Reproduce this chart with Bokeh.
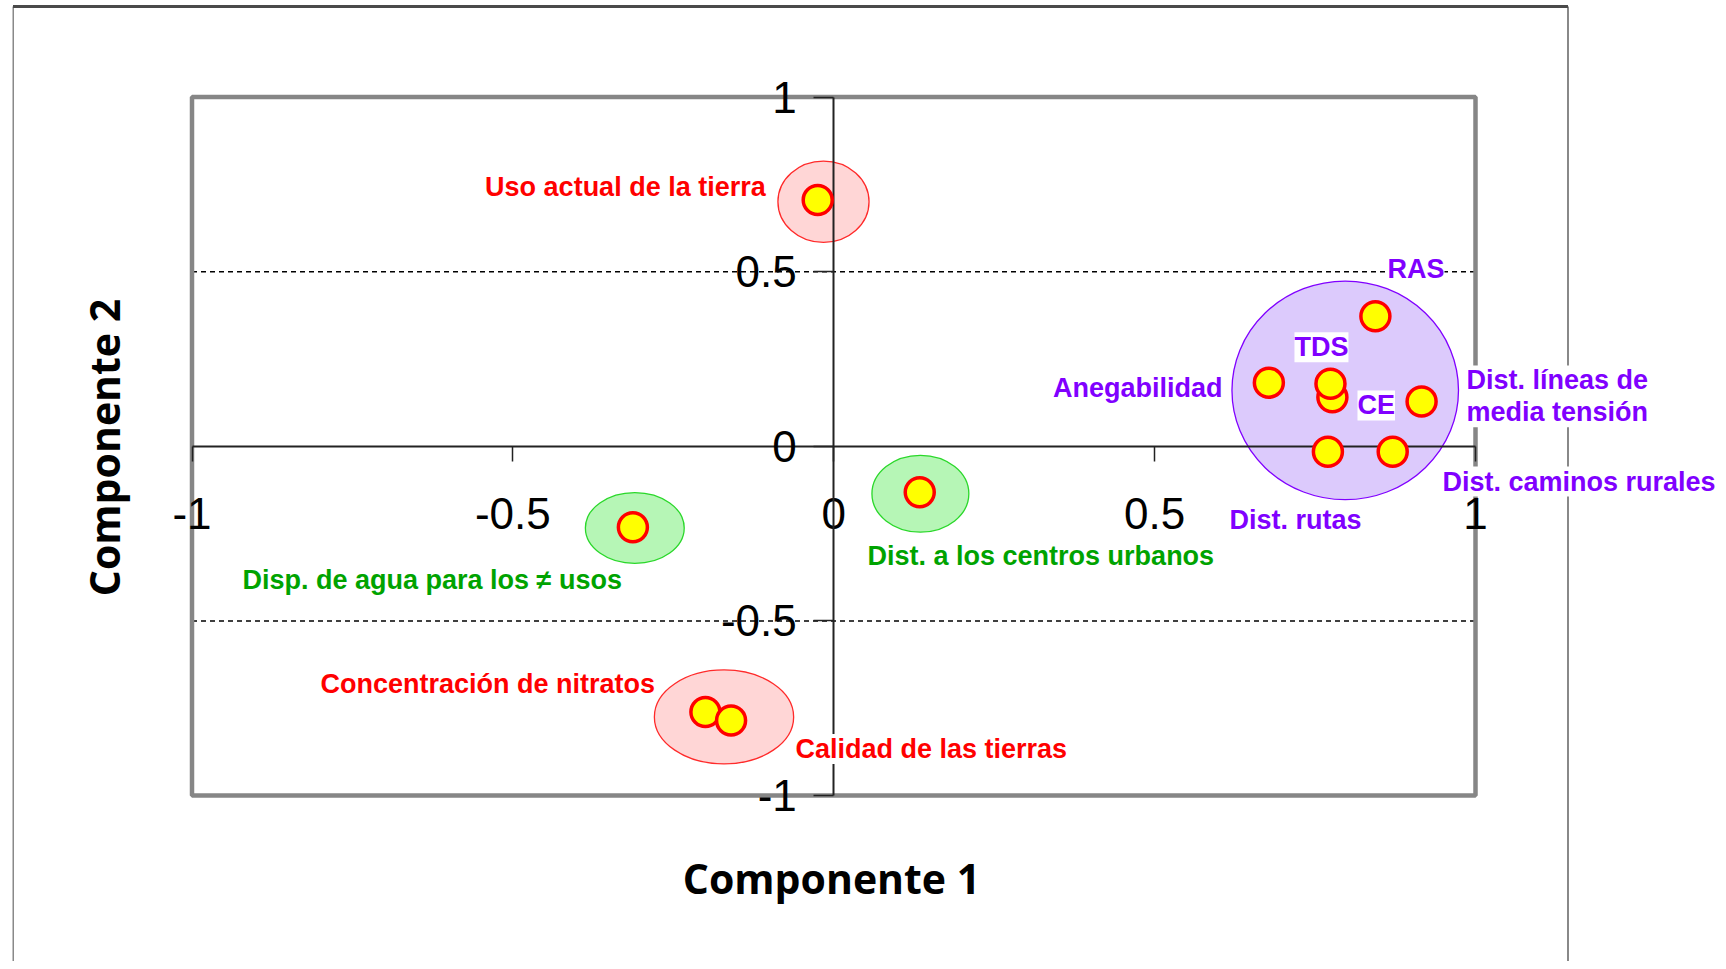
import math
from bokeh.plotting import figure
from bokeh.models import ColumnDataSource, LinearAxis, FixedTicker, Range1d
from bokeh.core.properties import value
from bokeh.embed import file_html
from bokeh.resources import INLINE

# ---------------- data ----------------
variables = [
    "Uso actual de la tierra", "Disp. de agua para los \u2260 usos", "Dist. a los centros urbanos",
    "Concentraci\u00f3n de nitratos", "Calidad de las tierras", "RAS", "Anegabilidad", "CE", "TDS",
    "Dist. l\u00edneas de media tensi\u00f3n", "Dist. rutas", "Dist. caminos rurales",
]
display_text = [
    "Uso actual de la tierra", "Disp. de agua para los \u2260 usos", "Dist. a los centros urbanos",
    "Concentraci\u00f3n de nitratos", "Calidad de las tierras", "RAS", "Anegabilidad", "CE", "TDS",
    "Dist. l\u00edneas de\nmedia tensi\u00f3n", "Dist. rutas", "Dist. caminos rurales",
]
componente1 = [-0.025, -0.313, 0.134, -0.200, -0.160, 0.844, 0.678, 0.777, 0.774, 0.916, 0.770, 0.871]
componente2 = [0.705, -0.232, -0.132, -0.761, -0.785, 0.372, 0.182, 0.140, 0.179, 0.128, -0.016, -0.016]
grupo = ["rojo", "verde", "verde", "rojo", "rojo",
         "violeta", "violeta", "violeta", "violeta", "violeta", "violeta", "violeta"]

# cluster ellipses (centre, width, height in component units)
cluster_grupo = ["rojo", "verde", "verde", "rojo", "violeta"]
cluster_c1 = [-0.016, -0.310, 0.135, -0.171, 0.797]
cluster_c2 = [0.700, -0.234, -0.136, -0.775, 0.160]
cluster_w = [0.142, 0.154, 0.151, 0.217, 0.353]
cluster_h = [0.233, 0.203, 0.220, 0.269, 0.626]

axis_ticks = [-1, -0.5, 0, 0.5, 1]
tick_labels = ["-1", "-0.5", "0", "0.5", "1"]
ref_lines = [-0.5, 0.5]
axis_bounds = (-1, 1)

# ---------------- layout / style ----------------
W, H = 1724, 961
PAGE = 0
BOX_L, BOX_R, BOX_T, BOX_B = 191.5, 1475.0, 96.5, 795.0   # page px of the [-1,1] box
PXX = (BOX_R - BOX_L) / 2.0
PXY = (BOX_B - BOX_T) / 2.0
X0 = (BOX_R + BOX_L) / 2.0
Y0 = (BOX_B + BOX_T) / 2.0
FRAME_L = 12  # page px


def fx(px):
    return (px - X0) / PXX


def fy(py):
    return (Y0 - py) / PXY


# label offsets in px from the point (dy positive = down) and alignment
label_dx = [-52, -390.4, -52.2, -50.4, 64.4, 12.1, -46.4, 25.1, -9, 44.9, -98.4, 49.8]
label_dy = [-13.5, 53.2, 64.1, -28.5, 28.6, -47.8, 5.3, 8.1, -36.5, -5.25, 67.7, 29.7]
label_align = ["right", "left", "left", "right", "left", "left", "right", "left",
               "center", "left", "left", "left"]

text_col = {"rojo": "#ff0000", "verde": "#00a300", "violeta": "#8000ff"}
fill_col = {"rojo": "#ffd6d6", "verde": "#b6f6b6", "violeta": "#dccafc"}
edge_col = {"rojo": "#ff2a2a", "verde": "#2ad82a", "violeta": "#8000ff"}

p = figure(width=W, height=H, output_backend="svg", toolbar_location=None,
           x_axis_location=None, y_axis_location=None,
           x_range=Range1d(fx(FRAME_L), fx(PAGE + W)),
           y_range=Range1d(fy(PAGE + H), fy(PAGE)),
           min_border_left=FRAME_L - PAGE, min_border_right=0,
           min_border_top=0, min_border_bottom=0)
p.outline_line_color = None
p.background_fill_color = "white"
p.border_fill_color = "white"
p.grid.visible = False

# outer frame (left, top, right)
fl, fr, ft = fx(12.5), fx(1567.5), fy(6)
fb = fy(PAGE + H + 5)
p.segment(x0=[fl, fr], y0=[ft, ft], x1=[fl, fr], y1=[fb, fb],
          line_color="#3a3a3a", line_width=1.2, level="underlay")
p.segment(x0=[fl], y0=[ft], x1=[fr], y1=[ft], line_color="#4a4a4a", line_width=3, level="underlay")

# dashed reference lines
p.segment(x0=[axis_bounds[0]] * len(ref_lines), x1=[axis_bounds[1]] * len(ref_lines),
          y0=ref_lines, y1=ref_lines, line_color="black", line_width=1.5,
          line_dash="5 4", level="underlay")

# plot box
p.quad(left=[axis_bounds[0]], right=[axis_bounds[1]], bottom=[axis_bounds[0]], top=[axis_bounds[1]],
       fill_color=None, line_color="#868686", line_width=4.5, level="underlay")

# cluster ellipses
csrc = ColumnDataSource(dict(
    x=cluster_c1, y=cluster_c2, w=cluster_w, h=cluster_h,
    fill=[fill_col[g] for g in cluster_grupo], edge=[edge_col[g] for g in cluster_grupo]))
p.ellipse(x="x", y="y", width="w", height="h", source=csrc, fill_color="fill",
          line_color="edge", line_width=1.3)

# axes through the origin
overrides = {t: s for t, s in zip(axis_ticks, tick_labels)}
xa = LinearAxis(fixed_location=0, bounds=axis_bounds, ticker=FixedTicker(ticks=axis_ticks),
                major_label_overrides=overrides)
ya = LinearAxis(fixed_location=0, bounds=axis_bounds, ticker=FixedTicker(ticks=axis_ticks),
                major_label_overrides=overrides)
for ax, tout, stand in ((xa, 15, 37), (ya, 20, 17)):
    ax.axis_line_color = "#222222"
    ax.axis_line_width = 2
    ax.major_tick_line_color = "#222222"
    ax.major_tick_line_width = 1.5
    ax.major_tick_out = tout
    ax.major_tick_in = 0
    ax.minor_tick_line_color = None
    ax.major_label_text_font = "Liberation Sans"
    ax.major_label_text_font_size = "44px"
    ax.major_label_text_color = "black"
    ax.major_label_standoff = stand
p.add_layout(xa, "below")
p.add_layout(ya, "left")

# points
src = ColumnDataSource(dict(
    x=componente1, y=componente2, name=variables, text=display_text,
    lx=[x + dx / PXX for x, dx in zip(componente1, label_dx)],
    ly=[y - dy / PXY for y, dy in zip(componente2, label_dy)],
    align=label_align, tcol=[text_col[g] for g in grupo]))
p.scatter(x="x", y="y", source=src, marker="circle", size=29, fill_color="#ffff00",
          line_color="#ff0000", line_width=3.5, level="annotation")

# point labels
p.text(x="lx", y="ly", text="text", source=src, text_align="align", text_baseline="middle",
       text_color="tcol", text_font=value("Liberation Sans"), text_font_style="bold",
       text_font_size=value("27px"), text_line_height=1.06,
       background_fill_color="white", level="annotation")

# axis titles
p.text(x=[fx(831)], y=[fy(877.5)], text=["Componente 1"], text_align="center",
       text_baseline="middle", text_font=value("Open Sans"), text_font_style="bold",
       text_font_size=value("41px"), text_color="black", level="annotation")
p.text(x=[fx(103.5)], y=[fy(447)], text=["Componente 2"], text_align="center",
       text_baseline="middle", angle=math.pi / 2, text_font=value("Open Sans"),
       text_font_style="bold", text_font_size=value("41px"), text_color="black",
       level="annotation")

open("out.html", "w").write(file_html(p, INLINE))
